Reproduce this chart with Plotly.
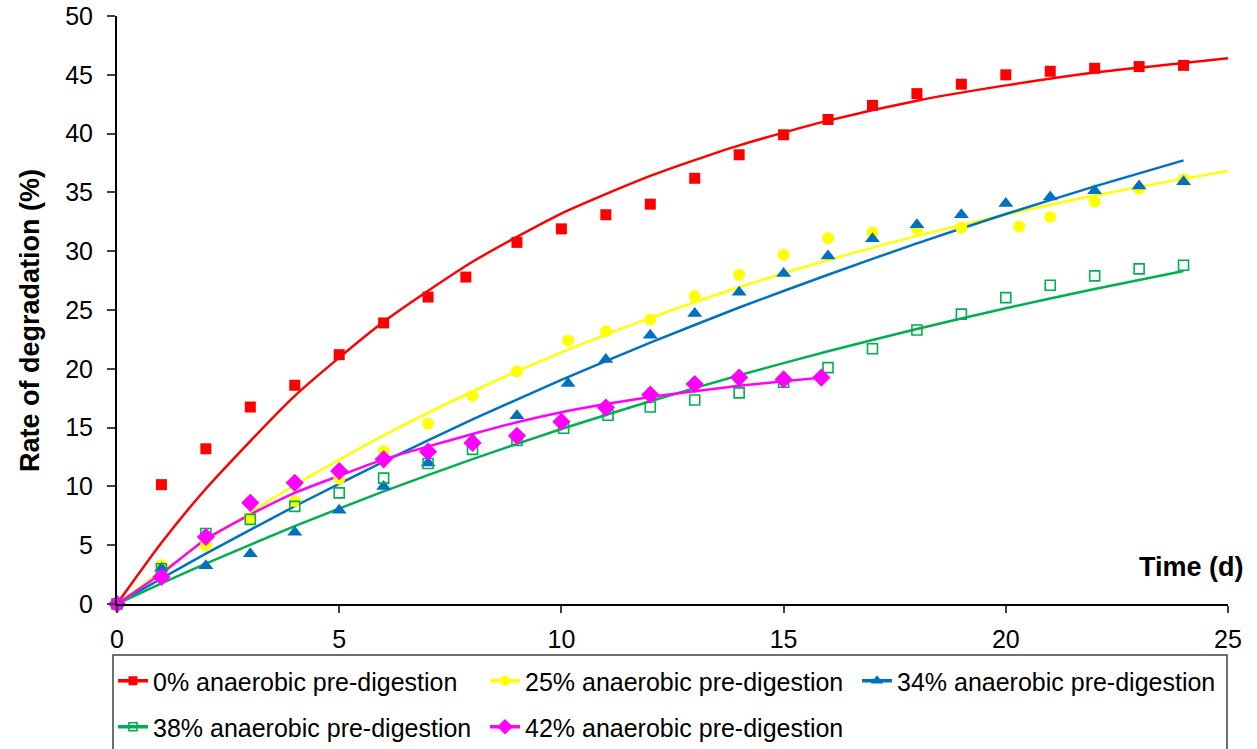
import plotly.graph_objects as go

# ---------------- data ----------------
series_names = ["0% anaerobic pre-digestion", "25% anaerobic pre-digestion",
                "34% anaerobic pre-digestion", "38% anaerobic pre-digestion",
                "42% anaerobic pre-digestion"]

red_x = [0, 1, 2, 3, 4, 5, 6, 7, 7.85, 9, 10, 11, 12, 13, 14, 15, 16, 17, 18, 19, 20, 21, 22, 23, 24]
red_y = [0, 10.15, 13.2, 16.75, 18.6, 21.2, 23.9, 26.1, 27.8, 30.75, 31.9, 33.1, 34.0, 36.2, 38.2,
         39.9, 41.2, 42.4, 43.4, 44.2, 45.0, 45.3, 45.55, 45.7, 45.8]

yel_x = [0, 1, 2, 3, 4, 5, 6, 7, 8, 9, 10.15, 11, 12, 13, 14, 15, 16, 17, 18, 19, 20.3, 21, 22, 23, 24]
yel_y = [0, 3.3, 5.0, 7.2, 8.75, 10.65, 13.0, 15.35, 17.7, 19.8, 22.4, 23.2, 24.2, 26.2, 28.0,
         29.7, 31.1, 31.6, 31.9, 32.0, 32.1, 32.9, 34.2, 35.3, 36.1]

blu_x = [0, 1, 2, 3, 4, 5, 6, 7, 8, 9, 10.15, 11, 12, 13, 14, 15, 16, 17, 18, 19, 20, 21, 22, 23, 24]
blu_y = [0, 3.05, 3.25, 4.27, 6.1, 7.97, 10.0, 12.0, 14.0, 16.0, 18.75, 20.8, 22.85, 24.7, 26.5,
         28.1, 29.6, 31.05, 32.25, 33.1, 34.05, 34.6, 35.15, 35.55, 35.9]

grn_x = [0, 1, 2, 3, 4, 5, 6, 7, 8, 9, 10.05, 11.05, 12, 13, 14, 15, 16, 17, 18, 19, 20, 21, 22, 23, 24]
grn_y = [0, 3.0, 6.0, 7.2, 8.3, 9.45, 10.7, 11.95, 13.15, 13.9, 14.95, 16.05, 16.75, 17.35, 17.95,
         18.85, 20.1, 21.7, 23.3, 24.65, 26.05, 27.1, 27.9, 28.5, 28.8]

mag_x = [0, 1, 2, 3, 4, 5, 6, 7, 8, 9, 10, 11, 12, 13, 14, 15, 15.85]
mag_y = [0, 2.3, 5.7, 8.6, 10.3, 11.3, 12.3, 12.95, 13.7, 14.3, 15.5, 16.7, 17.8, 18.7, 19.25, 19.1, 19.25]

# fitted trend curves
red_fit_x = [0, 1, 2, 4, 6, 8, 10, 12, 14, 16, 18, 20, 22, 24, 25]
red_fit_y = [0, 5.2, 9.8, 17.7, 24.0, 29.1, 33.2, 36.4, 39.0, 41.1, 42.8, 44.1, 45.2, 46.0, 46.4]

yel_fit_x = [0, 1, 2, 4, 6, 8, 10, 12, 14, 16, 18, 20, 22, 24, 25]
yel_fit_y = [0, 2.76, 5.36, 10.12, 14.33, 18.07, 21.39, 24.33, 26.94, 29.25, 31.30, 33.12, 34.74, 36.17, 36.83]

blu_fit_x = [0, 1, 2, 4, 6, 8, 10, 12, 14, 16, 18, 20, 22, 24]
blu_fit_y = [0, 2.17, 4.28, 8.31, 12.11, 15.69, 19.05, 22.22, 25.21, 28.0, 30.67, 33.16, 35.51, 37.72]

grn_fit_x = [0, 1, 2, 4, 6, 8, 10, 12, 14, 16, 18, 20, 22, 24]
grn_fit_y = [0, 1.75, 3.43, 6.62, 9.58, 12.32, 14.88, 17.24, 19.45, 21.49, 23.39, 25.15, 26.79, 28.31]

mag_fit_x = [0, 1, 2, 3, 4, 5, 6, 7, 8, 9, 10, 11, 12, 13, 14, 15, 15.85]
mag_fit_y = [0, 2.6, 5.5, 7.6, 9.45, 10.9, 12.3, 13.4, 14.45, 15.45, 16.3, 17.0, 17.6, 18.1, 18.55, 18.95, 19.25]

x_tick_vals = [0, 5, 10, 15, 20, 25]
y_tick_vals = [0, 5, 10, 15, 20, 25, 30, 35, 40, 45, 50]

# ---------------- styles ----------------
FONT = "Liberation Sans, Arial, sans-serif"
colors = ["#FF0000", "#FFFF00", "#0070C0", "#00B050", "#FF00FF"]
symbols = ["square", "circle", "triangle-up", "square-open", "diamond"]
msizes = [11, 12, 13, 10, 14]
legends = ["legend", "legend", "legend", "legend2", "legend2"]

pts = [(red_x, red_y), (yel_x, yel_y), (blu_x, blu_y), (grn_x, grn_y), (mag_x, mag_y)]
fits = [(red_fit_x, red_fit_y), (yel_fit_x, yel_fit_y), (blu_fit_x, blu_fit_y),
        (grn_fit_x, grn_fit_y), (mag_fit_x, mag_fit_y)]

fig = go.Figure()

for i in range(5):
    fx, fy = fits[i]
    fig.add_trace(go.Scatter(x=fx, y=fy, mode="lines",
                             line=dict(color=colors[i], width=2.5, shape="spline", smoothing=0.6),
                             showlegend=False, hoverinfo="skip"))

for i in range(5):
    px, py = pts[i]
    mk = dict(symbol=symbols[i], size=msizes[i], color=colors[i])
    if symbols[i] == "square-open":
        mk["line"] = dict(width=1.6, color=colors[i])
    else:
        mk["line"] = dict(width=0)
    fig.add_trace(go.Scatter(x=px, y=py, mode="markers", marker=mk, showlegend=False, cliponaxis=False,
                             name=series_names[i]))

# legend-only entries (line + marker)
for i in range(5):
    mk = dict(symbol=symbols[i], size=msizes[i] - 2, color=colors[i])
    if symbols[i] == "square-open":
        mk["line"] = dict(width=1.6, color=colors[i])
    else:
        mk["line"] = dict(width=0)
    fig.add_trace(go.Scatter(x=[None], y=[None], mode="lines+markers", name=series_names[i],
                             line=dict(color=colors[i], width=3.5), marker=mk, legend=legends[i]))

W_PLOT = 1111.0
H_PLOT = 588.0


def px_x(p):
    return (p - 117) / W_PLOT


def px_y(p):
    return (604 - p) / H_PLOT


legend_common = dict(orientation="h", xanchor="left", yanchor="middle",
                     font=dict(family=FONT, size=25, color="#000000"),
                     bgcolor="rgba(0,0,0,0)", borderwidth=0,
                     entrywidth=327, entrywidthmode="pixels", itemclick=False)

fig.update_layout(
    width=1257, height=749,
    margin=dict(l=117, r=29, t=16, b=145, autoexpand=False),
    paper_bgcolor="white", plot_bgcolor="white",
    font=dict(family=FONT, size=25, color="#000000"),
    xaxis=dict(range=[0, 25], tickvals=x_tick_vals, ticks="outside", ticklen=7, tickwidth=1.5,
               tickcolor="#404040", showline=True, linecolor="#000000", linewidth=2,
               showgrid=False, zeroline=False, tickfont=dict(family=FONT, size=25),
               ticklabelstandoff=5),
    yaxis=dict(range=[0, 50], tickvals=y_tick_vals, ticks="outside", ticklen=8, tickwidth=2,
               tickcolor="#404040", showline=True, linecolor="#000000", linewidth=2,
               showgrid=False, zeroline=False, tickfont=dict(family=FONT, size=25),
               ticklabelstandoff=9),
    legend=dict(x=px_x(113), y=px_y(681), **legend_common),
    legend2=dict(x=px_x(113), y=px_y(727), **legend_common),
    showlegend=True,
)

fig.add_shape(type="rect", xref="paper", yref="paper",
              x0=px_x(113), x1=px_x(1227), y0=px_y(655), y1=px_y(790),
              line=dict(color="#404040", width=1.5), fillcolor="rgba(0,0,0,0)", layer="below")

fig.add_annotation(text="<b>Rate of degradation (%)</b>", xref="paper", yref="paper",
                   x=px_x(30), y=px_y(321), xanchor="center", yanchor="middle",
                   textangle=-90, showarrow=False, font=dict(family=FONT, size=27, color="#000000"))
fig.add_annotation(text="<b>Time (d)</b>", xref="paper", yref="paper",
                   x=px_x(1246), y=px_y(567), xanchor="right", yanchor="middle",
                   showarrow=False, font=dict(family=FONT, size=27, color="#000000"))

fig.write_html("out.html", config={"displayModeBar": False},
               post_script="document.body.style.margin='0px';document.body.style.overflow='hidden';")
